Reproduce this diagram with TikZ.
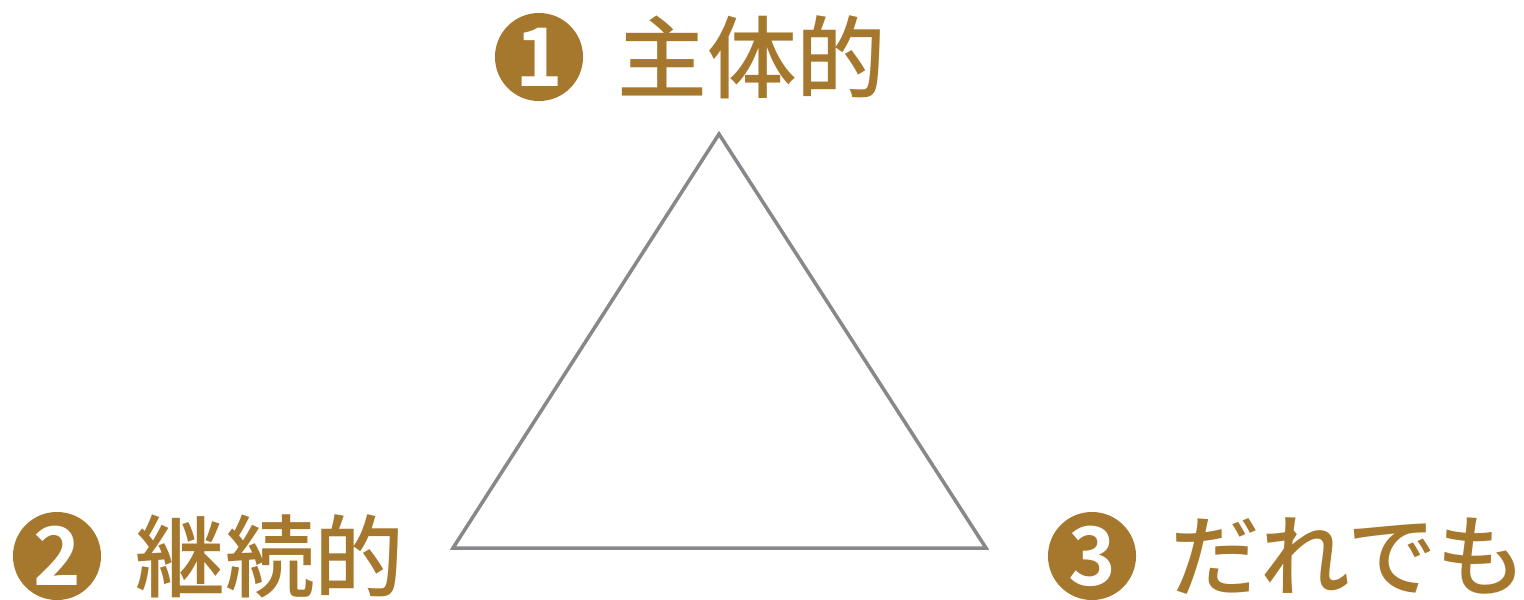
\documentclass[tikz,border=0pt]{standalone}
\usepackage{fontspec}
\setmainfont{Noto Sans CJK JP}[BoldFont={Noto Sans CJK JP Medium}]
\newfontfamily\digitfont{Noto Sans CJK JP Bold}
\usetikzlibrary{positioning}
\definecolor{gold}{HTML}{A5782E}
\definecolor{edgegray}{HTML}{88888C}

\begin{document}
\begin{tikzpicture}[x=0.01cm, y=-0.01cm,
    numdot/.style={circle, fill=gold, minimum size=0.88cm, inner sep=0pt,
        text=white, font=\fontsize{23}{23}\selectfont\digitfont},
    keyword/.style={inner sep=0pt, text=gold, font=\fontsize{25.5}{26}\selectfont\bfseries}]
        \useasboundingbox (0,0) rectangle (1524,599);

        % triangle
        \coordinate (apex) at (719,134);
        \coordinate (left) at (453,548);
        \coordinate (right) at (986,548);
        \draw[edgegray, line width=1pt, line join=miter] (apex) -- (left) -- (right) -- cycle;

        % labels
        \node[numdot] (n1) at (539,57) {1};
        \node[keyword, right=0.33cm of n1] (k1) {主体的};

        \node[numdot] (n2) at (57,556) {2};
        \node[keyword, right=0.33cm of n2] (k2) {継続的};

        \node[numdot] (n3) at (1092,556) {3};
        \node[keyword, right=0.33cm of n3] (k3) {だれでも};
    \end{tikzpicture}
\end{document}
